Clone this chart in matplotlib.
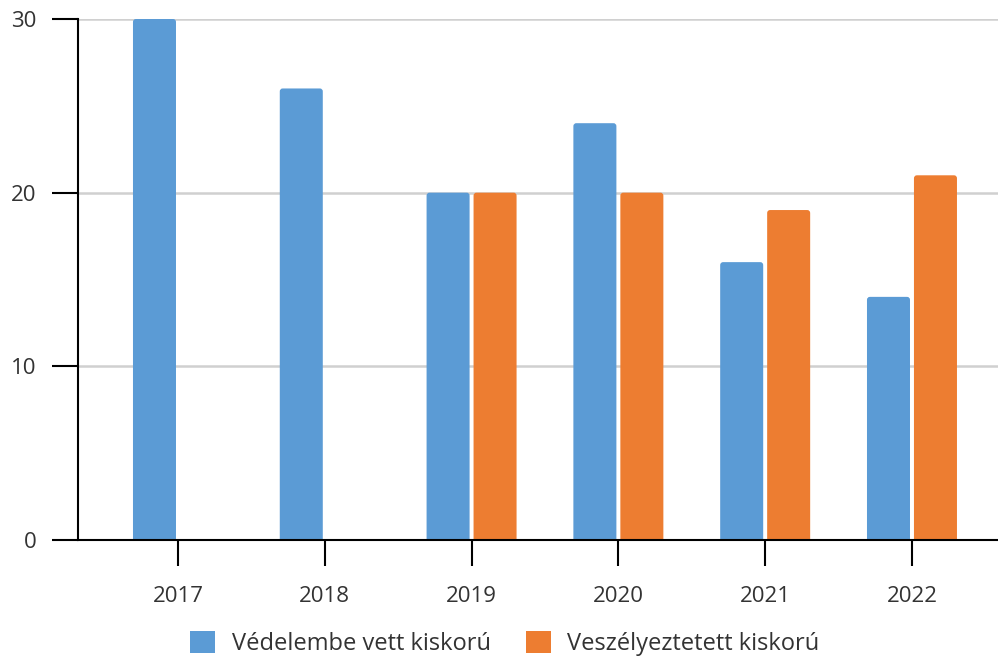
import numpy as np
import matplotlib.pyplot as plt
from matplotlib.patches import FancyBboxPatch, Patch

years = ["2017", "2018", "2019", "2020", "2021", "2022"]
vedelembe = [30, 26, 20, 24, 16, 14]
veszelyeztetett = [0, 0, 20, 20, 19, 21]
series_names = ["Védelembe vett kiskorú", "Veszélyeztetett kiskorú"]

BLUE = "#5B9BD5"
ORANGE = "#ED7D31"

plt.rcParams["font.family"] = ["Open Sans", "DejaVu Sans"]

fig = plt.figure(figsize=(9.98, 6.61), dpi=100)
ax = fig.add_axes([78 / 998, 1 - 540 / 661, 920 / 998, 521 / 661])

x = np.arange(len(years))
w = 0.293
off = 0.16
bars1 = ax.bar(x - off, vedelembe, w, color=BLUE, zorder=3)
bars2 = ax.bar(x + off, veszelyeztetett, w, color=ORANGE, zorder=3)

# swap plain rectangles for ones with slightly rounded tops
for bars in (bars1, bars2):
    for b in bars:
        h = b.get_height()
        b.set_visible(False)
        if h <= 0:
            continue
        p = FancyBboxPatch((b.get_x(), -1), b.get_width(), h + 1,
                           boxstyle="round,pad=0,rounding_size=0.02",
                           mutation_aspect=8.5, facecolor=b.get_facecolor(),
                           edgecolor="none", zorder=3)
        ax.add_patch(p)

ax.set_xlim(-0.681, 5.586)
ax.set_ylim(0, 30)
ax.set_yticks([0, 10, 20, 30])
ax.set_xticks(x)
ax.set_xticklabels(years)

ax.yaxis.grid(True, color="#D0D0D0", linewidth=1.8, zorder=0)
ax.set_axisbelow(True)

for s in ["top", "right"]:
    ax.spines[s].set_visible(False)
for s in ["left", "bottom"]:
    ax.spines[s].set_linewidth(1.5)
    ax.spines[s].set_color("black")
    ax.spines[s].set_zorder(4)

ax.tick_params(axis="both", length=19, width=1.5, labelsize=16, colors="black",
               labelcolor="#333333")
ax.tick_params(axis="x", pad=14)
ax.tick_params(axis="y", pad=11)

handles = [Patch(facecolor=BLUE, edgecolor="none"),
           Patch(facecolor=ORANGE, edgecolor="none")]
leg = fig.legend(handles, series_names, loc="lower center", ncol=2, frameon=False,
                 fontsize=17, handlelength=1.05, handleheight=1.05, columnspacing=1.5,
                 handletextpad=0.7, bbox_to_anchor=(0.506, -0.025))
for t in leg.get_texts():
    t.set_color("#333333")

fig.savefig("out.png", dpi=100)
